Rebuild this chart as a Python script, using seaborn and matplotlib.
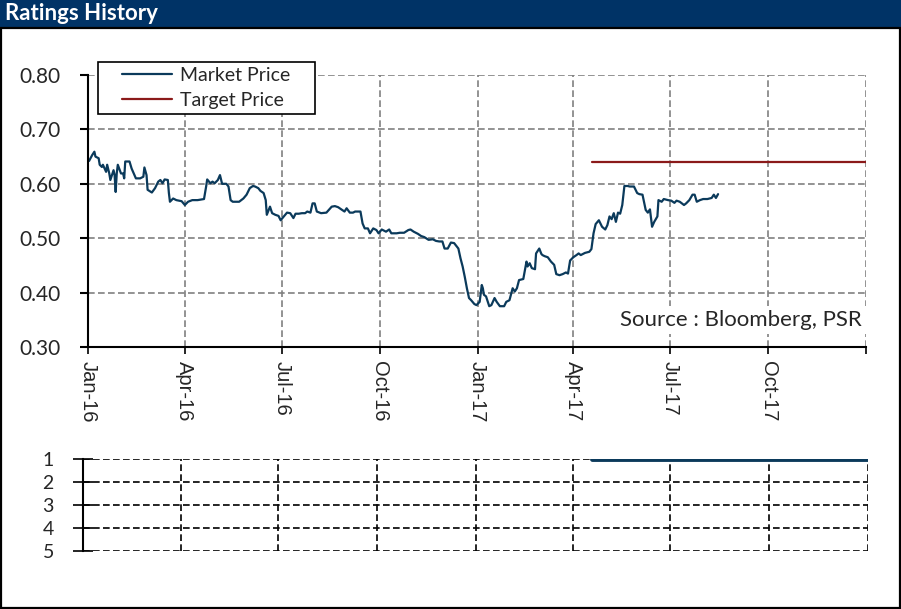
import matplotlib
matplotlib.use("Agg")
import matplotlib.pyplot as plt
from matplotlib.patches import Rectangle
from matplotlib.legend_handler import HandlerLine2D
import pandas as pd
import seaborn as sns

# price history
price_dates = [
    "2016-01-02", "2016-01-05", "2016-01-07", "2016-01-08", "2016-01-11", "2016-01-12",
    "2016-01-14", "2016-01-15", "2016-01-18", "2016-01-19", "2016-01-21", "2016-01-22",
    "2016-01-25", "2016-01-26", "2016-01-27", "2016-01-28", "2016-01-29", "2016-02-01",
    "2016-02-03", "2016-02-04", "2016-02-05", "2016-02-09", "2016-02-11", "2016-02-15",
    "2016-02-19", "2016-02-22", "2016-02-23", "2016-02-25", "2016-02-26", "2016-03-01",
    "2016-03-04", "2016-03-07", "2016-03-09", "2016-03-11", "2016-03-13", "2016-03-16",
    "2016-03-17", "2016-03-18", "2016-03-21", "2016-03-24", "2016-03-29", "2016-04-01",
    "2016-04-04", "2016-04-08", "2016-04-13", "2016-04-19", "2016-04-21", "2016-04-22",
    "2016-04-25", "2016-04-27", "2016-04-29", "2016-05-02", "2016-05-04", "2016-05-06",
    "2016-05-10", "2016-05-12", "2016-05-14", "2016-05-16", "2016-05-22", "2016-05-26",
    "2016-05-29", "2016-06-01", "2016-06-04", "2016-06-06", "2016-06-09", "2016-06-11",
    "2016-06-14", "2016-06-16", "2016-06-17", "2016-06-20", "2016-06-22", "2016-06-25",
    "2016-06-28", "2016-06-30", "2016-07-03", "2016-07-06", "2016-07-09", "2016-07-12",
    "2016-07-14", "2016-07-17", "2016-07-20", "2016-07-23", "2016-07-25", "2016-07-28",
    "2016-07-30", "2016-08-01", "2016-08-03", "2016-08-07", "2016-08-12", "2016-08-17",
    "2016-08-20", "2016-08-23", "2016-08-26", "2016-08-29", "2016-08-31", "2016-09-03",
    "2016-09-06", "2016-09-08", "2016-09-13", "2016-09-15", "2016-09-17", "2016-09-20",
    "2016-09-22", "2016-09-25", "2016-09-28", "2016-09-30", "2016-10-03", "2016-10-07",
    "2016-10-10", "2016-10-12", "2016-10-17", "2016-10-20", "2016-10-24", "2016-10-28",
    "2016-10-30", "2016-11-02", "2016-11-06", "2016-11-09", "2016-11-12", "2016-11-16",
    "2016-11-20", "2016-11-23", "2016-11-26", "2016-11-29", "2016-12-01", "2016-12-04",
    "2016-12-07", "2016-12-10", "2016-12-14", "2016-12-16", "2016-12-18", "2016-12-20",
    "2016-12-22", "2016-12-24", "2016-12-26", "2016-12-29", "2016-12-31", "2017-01-03",
    "2017-01-05", "2017-01-06", "2017-01-07", "2017-01-09", "2017-01-12", "2017-01-14",
    "2017-01-17", "2017-01-19", "2017-01-22", "2017-01-26", "2017-01-28", "2017-01-31",
    "2017-02-03", "2017-02-05", "2017-02-07", "2017-02-09", "2017-02-13", "2017-02-16",
    "2017-02-17", "2017-02-19", "2017-02-21", "2017-02-24", "2017-02-25", "2017-02-28",
    "2017-03-02", "2017-03-03", "2017-03-05", "2017-03-08", "2017-03-11", "2017-03-14",
    "2017-03-16", "2017-03-19", "2017-03-22", "2017-03-25", "2017-03-27", "2017-03-29",
    "2017-04-01", "2017-04-04", "2017-04-06", "2017-04-08", "2017-04-12", "2017-04-16",
    "2017-04-18", "2017-04-20", "2017-04-22", "2017-04-25", "2017-04-28", "2017-05-01",
    "2017-05-03", "2017-05-05", "2017-05-07", "2017-05-09", "2017-05-11", "2017-05-13",
    "2017-05-15", "2017-05-17", "2017-05-19", "2017-05-22", "2017-05-24", "2017-05-28",
    "2017-05-31", "2017-06-02", "2017-06-05", "2017-06-08", "2017-06-10", "2017-06-12",
    "2017-06-14", "2017-06-16", "2017-06-19", "2017-06-20", "2017-06-23", "2017-06-25",
    "2017-06-29", "2017-07-02", "2017-07-05", "2017-07-07", "2017-07-10", "2017-07-14",
    "2017-07-16", "2017-07-19", "2017-07-22", "2017-07-24", "2017-07-26", "2017-07-29",
    "2017-08-01", "2017-08-05", "2017-08-09", "2017-08-11", "2017-08-13", "2017-08-15",
]
market_price = [
    0.642, 0.653, 0.659, 0.650, 0.647, 0.635,
    0.631, 0.635, 0.622, 0.635, 0.619, 0.607,
    0.625, 0.616, 0.585, 0.619, 0.635, 0.619,
    0.619, 0.610, 0.641, 0.641, 0.628, 0.610,
    0.610, 0.613, 0.630, 0.616, 0.589, 0.584,
    0.592, 0.604, 0.607, 0.601, 0.608, 0.607,
    0.583, 0.567, 0.573, 0.570, 0.568, 0.561,
    0.567, 0.570, 0.570, 0.572, 0.595, 0.608,
    0.601, 0.604, 0.601, 0.607, 0.616, 0.600,
    0.600, 0.595, 0.570, 0.567, 0.567, 0.573,
    0.580, 0.592, 0.596, 0.595, 0.592, 0.587,
    0.583, 0.570, 0.543, 0.558, 0.546, 0.543,
    0.541, 0.533, 0.540, 0.547, 0.546, 0.537,
    0.545, 0.545, 0.546, 0.546, 0.549, 0.547,
    0.564, 0.564, 0.549, 0.546, 0.547, 0.558,
    0.559, 0.557, 0.553, 0.549, 0.555, 0.547,
    0.547, 0.549, 0.549, 0.527, 0.518, 0.518,
    0.509, 0.518, 0.515, 0.509, 0.516, 0.512,
    0.516, 0.509, 0.509, 0.510, 0.510, 0.515,
    0.516, 0.512, 0.508, 0.504, 0.502, 0.497,
    0.498, 0.495, 0.494, 0.494, 0.481, 0.481,
    0.492, 0.491, 0.481, 0.463, 0.448, 0.429,
    0.408, 0.390, 0.386, 0.379, 0.377, 0.383,
    0.414, 0.408, 0.396, 0.393, 0.375, 0.377,
    0.390, 0.383, 0.375, 0.375, 0.383, 0.386,
    0.408, 0.402, 0.408, 0.423, 0.425, 0.457,
    0.448, 0.454, 0.445, 0.443, 0.472, 0.481,
    0.471, 0.469, 0.467, 0.465, 0.457, 0.451,
    0.434, 0.432, 0.434, 0.437, 0.435, 0.459,
    0.465, 0.469, 0.472, 0.469, 0.473, 0.475,
    0.480, 0.509, 0.526, 0.533, 0.521, 0.516,
    0.524, 0.540, 0.535, 0.546, 0.530, 0.547,
    0.545, 0.561, 0.596, 0.596, 0.595, 0.595,
    0.583, 0.581, 0.580, 0.552, 0.547, 0.553,
    0.521, 0.530, 0.540, 0.570, 0.567, 0.572,
    0.570, 0.569, 0.565, 0.569, 0.567, 0.561,
    0.564, 0.570, 0.580, 0.580, 0.567, 0.570,
    0.572, 0.572, 0.574, 0.580, 0.574, 0.581,
]
target_dates = ["2017-04-19", "2018-01-01"]
target_price = [0.64, 0.64]
rating_dates = ["2017-04-19", "2018-01-01"]
rating = [1, 1]

quarter_ticks = ["2016-01-01", "2016-04-01", "2016-07-01", "2016-10-01", "2017-01-01",
                 "2017-04-01", "2017-07-01", "2017-10-01", "2018-01-01"]
quarter_labels = ["Jan-16", "Apr-16", "Jul-16", "Oct-16", "Jan-17",
                  "Apr-17", "Jul-17", "Oct-17", ""]
price_ticks = [0.30, 0.40, 0.50, 0.60, 0.70, 0.80]
rating_ticks = [1, 2, 3, 4, 5]

navy = "#0B3A5B"
red = "#8B1A1A"

sns.set_style("white")
plt.rcParams["font.family"] = ["Lato", "DejaVu Sans"]

W, H = 901, 609
fig = plt.figure(figsize=(W / 100, H / 100), dpi=100)

# header bar and frame
fig.patches.append(Rectangle((0, 1 - 28 / H), 1, 28 / H, transform=fig.transFigure,
                             facecolor="#003366", edgecolor="none", zorder=0))
fig.patches.append(Rectangle((1 / W, 1 / H), (W - 2) / W, (H - 29) / H,
                             transform=fig.transFigure, fill=False,
                             edgecolor="black", linewidth=1.6, zorder=0))
fig.text(5 / W, 1 - 14 / H, "Ratings History", color="white", fontsize=16,
         fontweight="bold", va="center", ha="left")

xlim = (pd.Timestamp("2016-01-01"), pd.Timestamp("2018-01-01"))

# price panel
ax = fig.add_axes([88 / W, 1 - 347 / H, 778 / W, 272 / H])
sns.lineplot(x=pd.to_datetime(price_dates), y=market_price, ax=ax, color=navy,
             linewidth=1.6, label="Market Price")
sns.lineplot(x=pd.to_datetime(target_dates), y=target_price, ax=ax, color=red,
             linewidth=1.6, label="Target Price")
ax.set_xlim(*xlim)
ax.set_ylim(0.30, 0.80)
ax.set_xticks(pd.to_datetime(quarter_ticks))
ax.set_xticklabels(quarter_labels, rotation=270, fontsize=14.5,
                   family=["Liberation Sans", "DejaVu Sans"])
ax.set_yticks(price_ticks)
ax.set_yticklabels([f"{v:.2f}" for v in price_ticks], fontsize=15)
ax.grid(True, color="#808080", linestyle=(0, (4, 2)), linewidth=1.2)
for s in ["top", "right"]:
    ax.spines[s].set_visible(False)
for s in ["left", "bottom"]:
    ax.spines[s].set_color("black")
    ax.spines[s].set_linewidth(1.5)
ax.tick_params(axis="y", direction="out", length=6, width=1.5, color="black", pad=14, left=True)
ax.tick_params(axis="x", direction="out", length=5, width=1.2, color="black", pad=5, bottom=True)
ax.set_xlabel("")
ax.set_ylabel("")
ax.text(0.995, 0.10, "Source : Bloomberg, PSR", transform=ax.transAxes, ha="right",
        va="center", fontsize=16,
        bbox=dict(facecolor="white", edgecolor="none", pad=3))
ax.legend(loc="upper left", bbox_to_anchor=(98 / W, 1 - 112 / H, 217 / W, 50 / H),
          bbox_transform=fig.transFigure, mode="expand", frameon=True, fancybox=False,
          edgecolor="black", framealpha=1, borderaxespad=0, fontsize=14,
          handlelength=3.55, handletextpad=0.4, labelspacing=0.4, borderpad=0.25,
          handler_map={plt.Line2D: HandlerLine2D(xpad=0.98)})
ax.get_legend().get_frame().set_linewidth(1.2)

# rating panel
ax2 = fig.add_axes([83 / W, 1 - 551 / H, 785 / W, 92 / H])
sns.lineplot(x=pd.to_datetime(rating_dates), y=rating, ax=ax2, color=navy,
             linewidth=3.5, solid_capstyle="round", zorder=5)
ax2.set_xlim(*xlim)
ax2.set_ylim(5, 1)
ax2.set_xticks(pd.to_datetime(quarter_ticks))
ax2.set_yticks(rating_ticks)
ax2.set_yticklabels([str(r) for r in rating_ticks], fontsize=14)
ax2.grid(True, color="black", linestyle=(0, (4, 2)), linewidth=1.2)
for s in ["top", "right", "bottom"]:
    ax2.spines[s].set_visible(False)
ax2.spines["left"].set_color("black")
ax2.spines["left"].set_linewidth(1.5)
ax2.tick_params(axis="x", length=0, labelbottom=False)
ax2.tick_params(axis="y", direction="inout", length=14, width=1.2, color="black", pad=14, left=True)
ax2.set_xlabel("")
ax2.set_ylabel("")

fig.savefig("out.png", dpi=100)
